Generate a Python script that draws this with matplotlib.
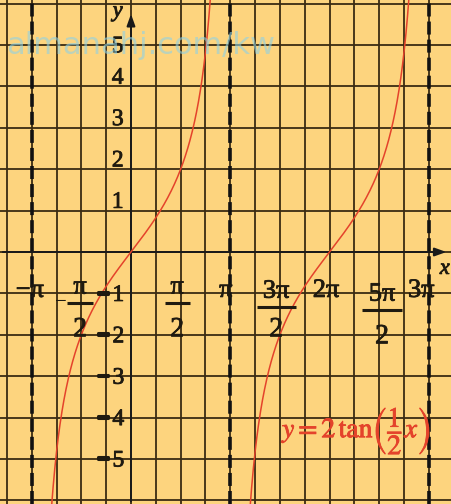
import numpy as np
import matplotlib

matplotlib.use("Agg")
import matplotlib.pyplot as plt
import matplotlib.patheffects as pe

plt.rcParams.update({"mathtext.fontset": "stix", "font.family": "Liberation Serif"})

# y = A * tan(B * x)
AMP = 2.0
B = 0.5
BRANCHES = [(-np.pi, np.pi), (np.pi, 3 * np.pi)]
ASYMPTOTES = [-np.pi, np.pi, 3 * np.pi]

Y_TICKS = [5, 4, 3, 2, 1, -1, -2, -3, -4, -5]
X_WHOLE = [-np.pi, np.pi, 2 * np.pi, 3 * np.pi]
X_WHOLE_LABELS = ["\u2212\u03c0", "\u03c0", "2\u03c0", "3\u03c0"]
X_FRAC = [-np.pi / 2, np.pi / 2, 3 * np.pi / 2, 5 * np.pi / 2]
X_FRAC_NUM = ["\u03c0", "\u03c0", "3\u03c0", "5\u03c0"]
X_FRAC_SIGN = ["\u2212", "", "", ""]

BG = "#FDD47E"
GRID = "#3b2b12"
RED = "#E4432B"
INK = "#1f1a10"

XLIM = (-4.145, 10.126)
YLIM = (-6.09, 6.09)

HEAVY = [pe.withStroke(linewidth=0.6, foreground=INK)]
BAR = [pe.withStroke(linewidth=2.2, foreground=INK)]

fig = plt.figure(figsize=(4.51, 5.04), dpi=100)
ax = fig.add_axes([0, 0, 1, 1])
ax.set_xlim(*XLIM)
ax.set_ylim(*YLIM)
ax.axis("off")
fig.patch.set_facecolor(BG)

# grid: pi/4 columns, unit rows
for k in range(-5, 13):
    ax.axvline(k * np.pi / 4, color=GRID, lw=1.3, zorder=1)
for j in range(-6, 7):
    ax.axhline(j, color=GRID, lw=1.3, zorder=1)

# asymptotes
for a in ASYMPTOTES:
    ax.axvline(a, color="#111111", lw=2.6, linestyle=(0, (3.6, 1.4)), zorder=3)

# axes with arrowheads
ax.annotate("", xy=(0, 5.82), xytext=(0, YLIM[0]),
            arrowprops=dict(arrowstyle="-|>,head_length=0.7,head_width=0.25",
                            color="#1a1a1a", lw=1.4), zorder=4)
ax.annotate("", xy=(10.07, 0), xytext=(XLIM[0], 0),
            arrowprops=dict(arrowstyle="-|>,head_length=0.7,head_width=0.25",
                            color="#1a1a1a", lw=1.4), zorder=4)
ax.text(-0.42, 5.80, "y", fontsize=16, style="italic", color=INK,
        ha="center", va="center", zorder=6, path_effects=HEAVY)
ax.text(9.93, -0.42, "x", fontsize=16, style="italic", color=INK,
        ha="center", va="center", zorder=6, path_effects=HEAVY)

# curve branches
for lo, hi in BRANCHES:
    xs = np.linspace(lo + 0.01, hi - 0.01, 800)
    ax.plot(xs, AMP * np.tan(B * xs), color=RED, lw=1.1, zorder=5)

# y tick labels
for v in Y_TICKS:
    if v > 0:
        yy = v + (-0.04 if v == 5 else 0.2)
        ax.text(-0.42, yy, str(v), fontsize=17, color=INK, ha="center", va="center",
                zorder=6, path_effects=HEAVY)
    else:
        yy = v - 0.05
        ax.text(-0.40, yy, str(-v), fontsize=17, color=INK, ha="center", va="center",
                zorder=6, path_effects=HEAVY)
        ax.text(-0.88, yy + 0.06, "\u2212", fontsize=11, fontweight="bold", color=INK,
                family="DejaVu Sans", ha="center", va="center", zorder=6, path_effects=BAR)

# x labels: whole multiples of pi
x_whole_dx = [-0.06, -0.14, -0.11, -0.24]
for v, lab, dx in zip(X_WHOLE, X_WHOLE_LABELS, x_whole_dx):
    ax.text(v + dx, -0.94, lab, fontsize=19, color=INK, ha="center", va="center",
            zorder=6, path_effects=HEAVY)

# x labels: fractions of pi
frac_dx = [-0.04, -0.11, -0.12, 0.09]
bar_y = [-1.23, -1.23, -1.33, -1.40]
den_y = [-1.88, -1.88, -1.88, -2.05]
for v, num, sign, dx, by, dy in zip(X_FRAC, X_FRAC_NUM, X_FRAC_SIGN, frac_dx, bar_y, den_y):
    cx = v + dx
    half = 0.40 if len(num) == 1 else 0.62
    ax.text(cx, by + 0.37, num, fontsize=19, color=INK, ha="center", va="center",
            zorder=6, path_effects=HEAVY)
    ax.plot([cx - half, cx + half], [by, by], color=INK, lw=2.2,
            solid_capstyle="butt", zorder=6)
    ax.text(cx, dy, "2", fontsize=20, color=INK, ha="center", va="center",
            zorder=6, path_effects=HEAVY)
    if sign:
        ax.text(cx - half - 0.22, by, sign, fontsize=15, color=INK, ha="center",
                va="center", zorder=6)

# equation
ax.text(7.15, -4.32, r"$y=2\,\mathrm{tan}\left(\dfrac{1}{2}x\right)$",
        fontsize=20, color=RED, ha="center", va="center", zorder=6,
        path_effects=[pe.withStroke(linewidth=0.6, foreground=RED)])

# site watermark
ax.text(-3.95, 5.0, "almanahj.com/kw", fontsize=22, family="DejaVu Sans",
        color="#8fd2e4", alpha=0.6, ha="left", va="center", zorder=7)

fig.savefig("out.png", dpi=100, facecolor=BG)
